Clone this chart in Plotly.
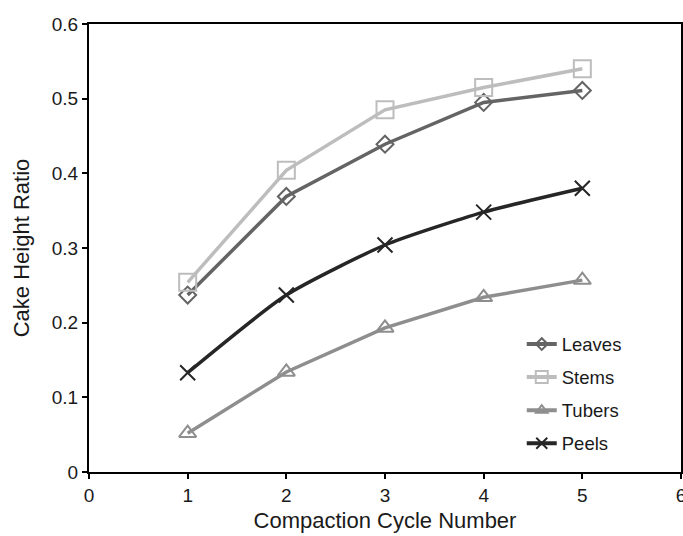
import plotly.graph_objects as go

cycles = [1, 2, 3, 4, 5]
leaves = [0.237, 0.369, 0.439, 0.495, 0.511]
stems = [0.254, 0.404, 0.485, 0.515, 0.540]
tubers = [0.052, 0.134, 0.193, 0.234, 0.257]
peels = [0.133, 0.237, 0.304, 0.348, 0.380]

# name, values, colour, marker symbol, marker size (plot), marker size (legend), line shape
series = [
    ("Leaves", leaves, "#646464", "diamond-open", 13, 9, "linear"),
    ("Stems", stems, "#bdbdbd", "square-open", 17, 12, "linear"),
    ("Tubers", tubers, "#8e8e8e", "triangle-up-open", 15, 10, "linear"),
    ("Peels", peels, "#262626", "x-thin-open", 15, 11, "spline"),
]

fig = go.Figure()
for name, vals, color, symbol, size, lsize, shape in series:
    fig.add_trace(go.Scatter(
        x=cycles, y=vals, name=name, legendgroup=name, showlegend=False,
        mode="lines+markers",
        line=dict(color=color, width=3.5, shape=shape, smoothing=0.6),
        marker=dict(symbol=symbol, size=size, color=color,
                    line=dict(color=color, width=2)),
    ))
    # legend entry with a smaller marker
    fig.add_trace(go.Scatter(
        x=[None], y=[None], name=name, legendgroup=name, showlegend=True,
        mode="lines+markers",
        line=dict(color=color, width=4),
        marker=dict(symbol=symbol, size=lsize, color=color,
                    line=dict(color=color, width=2)),
    ))

font = dict(family="Liberation Sans, Arial, sans-serif", size=18, color="#1a1a1a")
tickfont = dict(family="Liberation Sans, Arial, sans-serif", size=19, color="#1a1a1a")

fig.update_layout(
    width=683, height=536,
    margin=dict(l=89, r=2, t=24, b=64),
    paper_bgcolor="white", plot_bgcolor="white",
    font=font,
    showlegend=True,
    legend=dict(x=0.731, y=0.327, xanchor="left", yanchor="top",
                bgcolor="rgba(0,0,0,0)", tracegroupgap=6,
                font=dict(size=18.5)),
)
fig.update_xaxes(
    range=[0, 6], dtick=1, tick0=0,
    showgrid=False, zeroline=False,
    showline=True, linecolor="black", linewidth=2, mirror=True,
    ticks="outside", ticklen=5, tickwidth=1.5, tickcolor="black",
    tickfont=tickfont, ticklabeloverflow="allow",
    title=dict(text="Compaction Cycle Number", standoff=8),
    automargin=False,
)
fig.update_yaxes(
    range=[0, 0.6], dtick=0.1, tick0=0,
    showgrid=False, zeroline=False,
    showline=True, linecolor="black", linewidth=2, mirror=True,
    ticks="outside", ticklen=5, tickwidth=1.5, tickcolor="black",
    tickfont=tickfont,
    title=dict(text="Cake Height Ratio", standoff=16),
    automargin=False,
)

fig.write_html("out.html")
